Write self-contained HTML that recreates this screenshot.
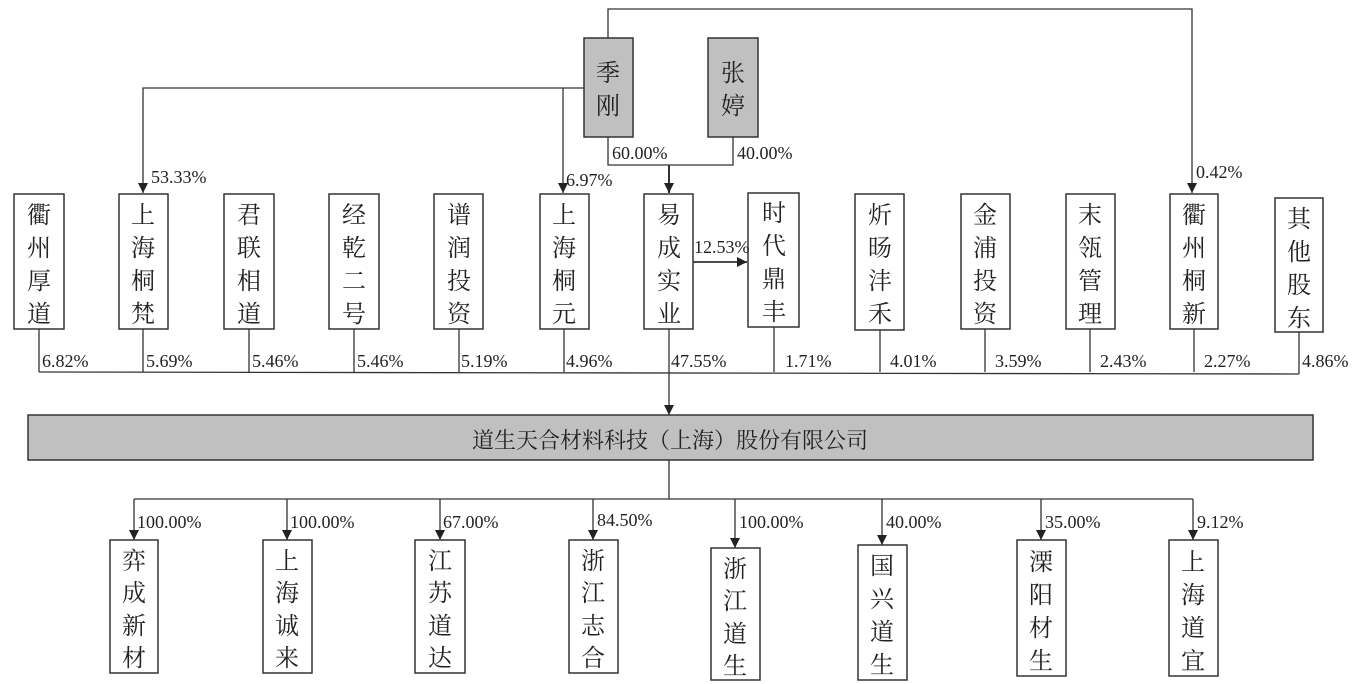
<!DOCTYPE html>
<html><head><meta charset="utf-8"><style>
html,body{margin:0;padding:0;background:#fff;}
svg{display:block;}
.c{font-family:"Liberation Serif","Noto Serif CJK SC","Noto Sans CJK SC",serif;fill:#222;}
.p{font-family:"Liberation Serif",serif;font-size:18px;fill:#222;}
</style></head><body>
<svg width="1372" height="684" viewBox="0 0 1372 684" xmlns="http://www.w3.org/2000/svg">
<defs><marker id="a" markerWidth="11" markerHeight="11" refX="10" refY="5" orient="auto" markerUnits="userSpaceOnUse"><path d="M0,0 L10,5 L0,10 z" fill="#222"/></marker></defs>
<g stroke="#333" stroke-width="1.3" fill="none">
<polyline points="608,38 608,9 1192,9 1192,193" marker-end="url(#a)"/>
<polyline points="584,88 143,88 143,193" marker-end="url(#a)"/>
<line x1="563" y1="88" x2="563" y2="193" marker-end="url(#a)"/>
<polyline points="608,137 608,165 733,165 733,137"/>
<line x1="669" y1="165" x2="669" y2="193" stroke-width="2" marker-end="url(#a)"/>
<line x1="693" y1="262" x2="747" y2="262" stroke-width="1.8" marker-end="url(#a)"/>
<line x1="39" y1="329" x2="39" y2="372"/><line x1="143" y1="329" x2="143" y2="372"/>
<line x1="249" y1="329" x2="249" y2="372"/><line x1="354" y1="329" x2="354" y2="372"/>
<line x1="459" y1="329" x2="459" y2="372"/><line x1="564" y1="329" x2="564" y2="372"/>
<line x1="669" y1="329" x2="669" y2="372"/><line x1="774" y1="327" x2="774" y2="372"/>
<line x1="880" y1="330" x2="880" y2="372"/><line x1="985" y1="329" x2="985" y2="372"/>
<line x1="1090" y1="329" x2="1090" y2="372"/><line x1="1194" y1="329" x2="1194" y2="372"/>
<line x1="1299" y1="332" x2="1299" y2="374"/>
<polyline points="39,372 1299,374"/>
<line x1="669" y1="372" x2="669" y2="415" marker-end="url(#a)"/>
<polyline points="669,460 669,499"/>
<line x1="134" y1="499" x2="1193" y2="499"/>
<line x1="134" y1="499" x2="134" y2="540" marker-end="url(#a)"/>
<line x1="287" y1="499" x2="287" y2="540" marker-end="url(#a)"/>
<line x1="440" y1="499" x2="440" y2="540" marker-end="url(#a)"/>
<line x1="593" y1="499" x2="593" y2="540" marker-end="url(#a)"/>
<line x1="735" y1="499" x2="735" y2="548" marker-end="url(#a)"/>
<line x1="882" y1="499" x2="882" y2="545" marker-end="url(#a)"/>
<line x1="1041" y1="499" x2="1041" y2="540" marker-end="url(#a)"/>
<line x1="1193" y1="499" x2="1193" y2="540" marker-end="url(#a)"/>
</g>
<g stroke="#333" stroke-width="1.5" fill="#c0c0c0">
<rect x="584" y="38" width="49" height="99"/><rect x="708" y="38" width="50" height="99"/>
<rect x="28" y="415" width="1285" height="45"/>
</g>
<g stroke="#333" stroke-width="1.5" fill="#fff">
<rect x="14" y="194" width="50" height="135"/><rect x="119" y="194" width="49" height="135"/>
<rect x="224" y="194" width="50" height="135"/><rect x="329" y="194" width="50" height="135"/>
<rect x="434" y="194" width="49" height="135"/><rect x="540" y="194" width="49" height="135"/>
<rect x="644" y="194" width="49" height="135"/><rect x="748" y="193" width="51" height="134"/>
<rect x="855" y="194" width="49" height="136"/><rect x="961" y="194" width="49" height="135"/>
<rect x="1066" y="194" width="49" height="135"/><rect x="1170" y="194" width="48" height="135"/>
<rect x="1275" y="198" width="48" height="134"/>
<rect x="110" y="540" width="48" height="133"/><rect x="263" y="540" width="49" height="133"/>
<rect x="415" y="540" width="50" height="133"/><rect x="569" y="540" width="49" height="133"/>
<rect x="711" y="548" width="49" height="132"/><rect x="858" y="545" width="49" height="135"/>
<rect x="1017" y="540" width="49" height="136"/><rect x="1169" y="540" width="49" height="136"/>
</g>
<g class="c" text-anchor="middle" font-size="24">
<text x="608" y="81">季</text><text x="608" y="114">刚</text>
<text x="733" y="81">张</text><text x="733" y="114">婷</text>
<text x="670" y="448" font-size="22">道生天合材料科技（上海）股份有限公司</text>
</g>
<g class="c" text-anchor="middle" font-size="24">
<text><tspan x="39" y="223">衢</tspan><tspan x="39" y="256">州</tspan><tspan x="39" y="289">厚</tspan><tspan x="39" y="322">道</tspan></text>
<text><tspan x="143" y="223">上</tspan><tspan x="143" y="256">海</tspan><tspan x="143" y="289">桐</tspan><tspan x="143" y="322">梵</tspan></text>
<text><tspan x="249" y="223">君</tspan><tspan x="249" y="256">联</tspan><tspan x="249" y="289">相</tspan><tspan x="249" y="322">道</tspan></text>
<text><tspan x="354" y="223">经</tspan><tspan x="354" y="256">乾</tspan><tspan x="354" y="289">二</tspan><tspan x="354" y="322">号</tspan></text>
<text><tspan x="459" y="223">谱</tspan><tspan x="459" y="256">润</tspan><tspan x="459" y="289">投</tspan><tspan x="459" y="322">资</tspan></text>
<text><tspan x="564" y="223">上</tspan><tspan x="564" y="256">海</tspan><tspan x="564" y="289">桐</tspan><tspan x="564" y="322">元</tspan></text>
<text><tspan x="669" y="223">易</tspan><tspan x="669" y="256">成</tspan><tspan x="669" y="289">实</tspan><tspan x="669" y="322">业</tspan></text>
<text><tspan x="774" y="221">时</tspan><tspan x="774" y="254">代</tspan><tspan x="774" y="287">鼎</tspan><tspan x="774" y="320">丰</tspan></text>
<text><tspan x="880" y="223">炘</tspan><tspan x="880" y="256">旸</tspan><tspan x="880" y="289">沣</tspan><tspan x="880" y="322">禾</tspan></text>
<text><tspan x="985" y="223">金</tspan><tspan x="985" y="256">浦</tspan><tspan x="985" y="289">投</tspan><tspan x="985" y="322">资</tspan></text>
<text><tspan x="1090" y="223">末</tspan><tspan x="1090" y="256">瓴</tspan><tspan x="1090" y="289">管</tspan><tspan x="1090" y="322">理</tspan></text>
<text><tspan x="1194" y="223">衢</tspan><tspan x="1194" y="256">州</tspan><tspan x="1194" y="289">桐</tspan><tspan x="1194" y="322">新</tspan></text>
<text><tspan x="1299" y="227">其</tspan><tspan x="1299" y="260">他</tspan><tspan x="1299" y="293">股</tspan><tspan x="1299" y="326">东</tspan></text>
<text><tspan x="134" y="569">弈</tspan><tspan x="134" y="601">成</tspan><tspan x="134" y="634">新</tspan><tspan x="134" y="666">材</tspan></text>
<text><tspan x="287" y="569">上</tspan><tspan x="287" y="601">海</tspan><tspan x="287" y="634">诚</tspan><tspan x="287" y="666">来</tspan></text>
<text><tspan x="440" y="569">江</tspan><tspan x="440" y="601">苏</tspan><tspan x="440" y="634">道</tspan><tspan x="440" y="666">达</tspan></text>
<text><tspan x="593" y="569">浙</tspan><tspan x="593" y="601">江</tspan><tspan x="593" y="634">志</tspan><tspan x="593" y="666">合</tspan></text>
<text><tspan x="735" y="577">浙</tspan><tspan x="735" y="609">江</tspan><tspan x="735" y="642">道</tspan><tspan x="735" y="674">生</tspan></text>
<text><tspan x="882" y="574">国</tspan><tspan x="882" y="607">兴</tspan><tspan x="882" y="640">道</tspan><tspan x="882" y="673">生</tspan></text>
<text><tspan x="1041" y="570">溧</tspan><tspan x="1041" y="603">阳</tspan><tspan x="1041" y="636">材</tspan><tspan x="1041" y="669">生</tspan></text>
<text><tspan x="1193" y="570">上</tspan><tspan x="1193" y="603">海</tspan><tspan x="1193" y="636">道</tspan><tspan x="1193" y="669">宜</tspan></text>
</g>
<g class="p">
<text x="612" y="159">60.00%</text><text x="737" y="159">40.00%</text>
<text x="151" y="183">53.33%</text><text x="566" y="186">6.97%</text>
<text x="1196" y="178">0.42%</text>
<text x="694" y="253">12.53%</text>
<text x="42" y="367">6.82%</text><text x="146" y="367">5.69%</text><text x="252" y="367">5.46%</text>
<text x="357" y="367">5.46%</text><text x="461" y="367">5.19%</text><text x="566" y="367">4.96%</text>
<text x="671" y="367">47.55%</text><text x="785" y="367">1.71%</text><text x="890" y="367">4.01%</text>
<text x="995" y="367">3.59%</text><text x="1100" y="367">2.43%</text><text x="1204" y="367">2.27%</text>
<text x="1302" y="367">4.86%</text>
<text x="137" y="528">100.00%</text><text x="290" y="528">100.00%</text><text x="443" y="528">67.00%</text>
<text x="597" y="526">84.50%</text><text x="739" y="528">100.00%</text><text x="886" y="528">40.00%</text>
<text x="1045" y="528">35.00%</text><text x="1197" y="528">9.12%</text>
</g>
</svg>
</body></html>
